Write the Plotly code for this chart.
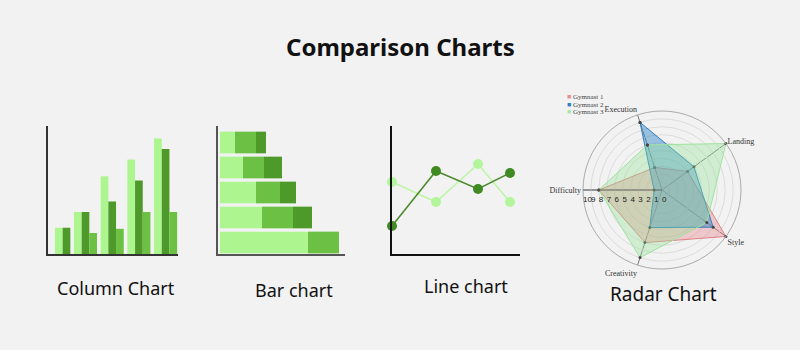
import plotly.graph_objects as go

W, H = 800, 350
BG = "#f2f2f2"

# ---------------- data ----------------
# Column chart (5 groups, 3 series)
col_groups = [0, 1, 2, 3, 4]
col_light = [12.5, 20, 37, 45, 55]
col_dark = [12.5, 20, 25, 35, 50]
col_mid = [None, 10, 12, 20, 20]

# Bar chart (5 rows, stacked 3 segments)
bar_rows = [0, 1, 2, 3, 4]
bar_light = [15, 23, 36, 42, 88]
bar_mid = [21, 21, 24, 31, 31]
bar_dark = [10, 18, 16, 19, 0]

# Line chart
line_x = [0, 44, 86, 118]
line_dark = [28, 83, 65, 81]
line_light = [72, 52, 90, 52]

# Radar chart
radar_axes = ["Execution", "Landing", "Style", "Creativity", "Difficulty"]
gym_names = ["Gymnast 1", "Gymnast 2", "Gymnast 3"]
gym1 = [3, 4, 10, 7, 8]
gym2 = [9, 5, 8, 5, 1]
gym3 = [6, 10, 7, 9, 8]
radar_ticks = [0, 1, 2, 3, 4, 5, 6, 7, 8, 9, 10]

# ---------------- styles ----------------
LIGHT = "#adf58f"
MID = "#6cc043"
DARK = "#4d9a2b"


def xd(a, b):
    return [a / W, b / W]


def yd(top, bottom):
    return [1 - bottom / H, 1 - top / H]


fig = go.Figure()

# Column chart
bw = 0.288
fig.add_trace(go.Bar(x=col_groups, y=col_light, marker_color=LIGHT, width=bw,
                     offset=[-0.144] + [-0.432] * 4, xaxis="x", yaxis="y",
                     marker_line_width=0, showlegend=False))
fig.add_trace(go.Bar(x=col_groups, y=col_dark, marker_color=DARK, width=bw,
                     offset=[0.144] + [-0.144] * 4, xaxis="x", yaxis="y",
                     marker_line_width=0, showlegend=False))
fig.add_trace(go.Bar(x=col_groups, y=col_mid, marker_color=MID, width=bw,
                     offset=0.144, xaxis="x", yaxis="y",
                     marker_line_width=0, showlegend=False))

# Bar chart (horizontal, stacked via bases)
base_mid = list(bar_light)
base_dark = [a + b for a, b in zip(bar_light, bar_mid)]
fig.add_trace(go.Bar(y=bar_rows, x=bar_light, orientation="h", marker_color=LIGHT,
                     width=0.868, xaxis="x2", yaxis="y2", marker_line_width=0,
                     showlegend=False))
fig.add_trace(go.Bar(y=bar_rows, x=bar_mid, base=base_mid, orientation="h",
                     marker_color=MID, width=0.868, xaxis="x2", yaxis="y2",
                     marker_line_width=0, showlegend=False))
fig.add_trace(go.Bar(y=bar_rows, x=bar_dark, base=base_dark, orientation="h",
                     marker_color=DARK, width=0.868, xaxis="x2", yaxis="y2",
                     marker_line_width=0, showlegend=False))

# Line chart
fig.add_trace(go.Scatter(x=line_x, y=line_light, mode="lines+markers",
                         line=dict(color="#bdf5a6", width=1.5),
                         marker=dict(color="#b3f59b", size=10),
                         xaxis="x3", yaxis="y3", cliponaxis=False, showlegend=False))
fig.add_trace(go.Scatter(x=line_x, y=line_dark, mode="lines+markers",
                         line=dict(color="#4a8a2a", width=1.5),
                         marker=dict(color="#3f8a22", size=10),
                         xaxis="x3", yaxis="y3", cliponaxis=False, showlegend=False))

# Radar chart
radar_vals = [gym1, gym2, gym3]
radar_line = ["#e07f86", "#2f7fc1", "#9fe29f"]
radar_fill = ["rgba(232,120,128,0.35)", "rgba(45,130,200,0.45)", "rgba(150,228,150,0.35)"]
radar_key = ["#e39096", "#2f7fc1", "#a6e6a6"]
for name, vals, lc, fc in zip(gym_names, radar_vals, radar_line, radar_fill):
    fig.add_trace(go.Scatterpolar(
        r=vals + vals[:1], theta=radar_axes + radar_axes[:1], name=name,
        fill="toself", fillcolor=fc, line=dict(color=lc, width=1),
        marker=dict(size=3, color="#444"), mode="lines+markers",
        subplot="polar", showlegend=False))

axis_common = dict(showgrid=False, zeroline=False, showticklabels=False,
                   ticks="", showline=True, fixedrange=True)

R = 79
CY = 190
fig.update_layout(
    width=W, height=H, margin=dict(l=0, r=0, t=0, b=0),
    paper_bgcolor=BG, plot_bgcolor=BG, barmode="overlay",
    xaxis=dict(domain=xd(48, 178), range=[-0.404, 4.464], anchor="y",
               linecolor="#333", linewidth=1.5, **axis_common),
    yaxis=dict(domain=yd(126, 254), range=[0, 60.95], anchor="x",
               linecolor="#333", linewidth=1.5, **axis_common),
    xaxis2=dict(domain=xd(218, 345), range=[-2, 125], anchor="y2",
                linecolor="#555", linewidth=1.5, **axis_common),
    yaxis2=dict(domain=yd(126, 254), range=[4.46, -0.66], anchor="x2",
                linecolor="#555", linewidth=1.5, **axis_common),
    xaxis3=dict(domain=xd(392, 520), range=[0, 128], anchor="y3",
                linecolor="#111", linewidth=1.5, **axis_common),
    yaxis3=dict(domain=yd(126, 254), range=[0, 128], anchor="x3",
                linecolor="#111", linewidth=1.5, **axis_common),
    polar=dict(
        domain=dict(x=xd(662 - R, 662 + R), y=yd(CY - R, CY + R)),
        bgcolor="rgba(0,0,0,0)",
        angularaxis=dict(direction="clockwise", rotation=108,
                         tickfont=dict(size=8, family="Liberation Serif", color="#333"),
                         linecolor="#aaa", linewidth=1, gridcolor="#777",
                         gridwidth=0.6, ticks=""),
        radialaxis=dict(range=[0, 10], angle=180, tickangle=180, tickvals=radar_ticks,
                        side="counterclockwise",
                        tickfont=dict(size=8, family="Liberation Sans", color="#222"),
                        showline=True, linecolor="#666", linewidth=0.8,
                        gridcolor="#dcdcdc", gridwidth=0.8, ticks=""),
    ),
    showlegend=False,
    font=dict(family="Noto Sans"),
)

# legend built as text keys
for i, (name, kc) in enumerate(zip(gym_names, radar_key)):
    fig.add_annotation(
        text=f"<span style='color:{kc}'>■</span> {name}",
        x=565 / W, y=1 - (97 + 7.7 * i) / H, xref="paper", yref="paper",
        showarrow=False, xanchor="left", yanchor="middle",
        font=dict(size=7, family="Liberation Serif", color="#444"))

titles = [
    ("Comparison Charts", 400, 46, 24, True),
    ("Column Chart", 116, 288, 18, False),
    ("Bar chart", 294, 290, 18, False),
    ("Line chart", 466, 286, 18, False),
    ("Radar Chart", 663, 294, 19, False),
]
for text, x, y, size, bold in titles:
    fig.add_annotation(text=f"<b>{text}</b>" if bold else text, x=x / W, y=1 - y / H,
                       xref="paper", yref="paper", showarrow=False,
                       xanchor="center", yanchor="middle",
                       font=dict(size=size, family="Noto Sans", color="#111"))

fig.write_html("out.html")
